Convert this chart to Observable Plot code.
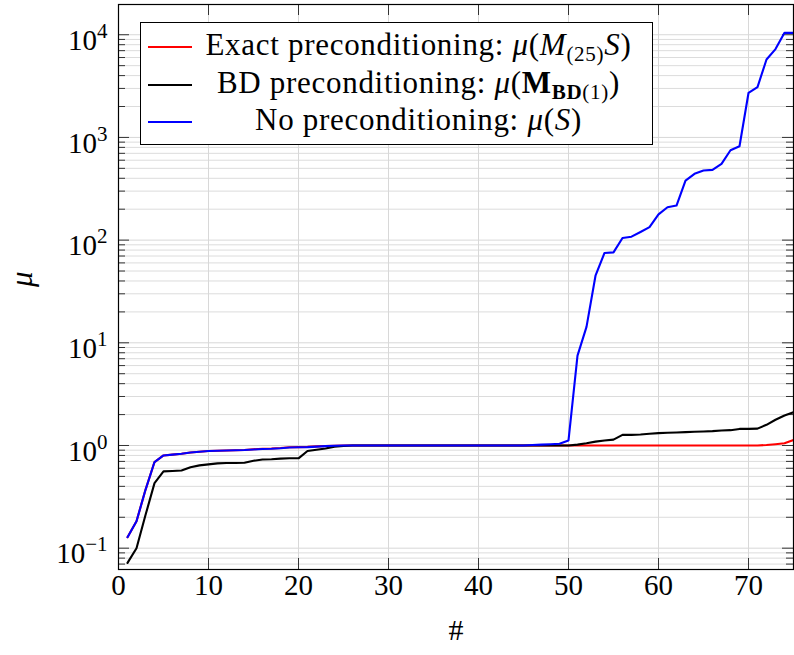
<!DOCTYPE html>
<html><head><meta charset="utf-8">
<script src="https://cdn.jsdelivr.net/npm/d3@7"></script>
<script src="https://cdn.jsdelivr.net/npm/@observablehq/plot@0.6"></script>
<style>
body{margin:0;background:#fff;}
#wrap{position:relative;width:794px;height:655px;}
#legend{position:absolute;left:140px;top:22px;width:513px;height:123px;border:1.2px solid #000;background:#fff;box-sizing:border-box;}
.row{position:absolute;left:0;width:100%;height:37px;}
.sw{position:absolute;left:7px;top:18px;width:44px;height:2px;}
.lab{position:absolute;left:56px;right:12px;top:-2px;text-align:center;font-size:31px;line-height:37px;letter-spacing:.7px;white-space:nowrap;color:#000;}
.lab sub{font-size:0.68em;vertical-align:-0.28em;line-height:0;}
</style>
</head><body>
<div id="wrap"><div id="legend"></div></div>
<script>
// index (#)
const idx = d3.range(1, 76);
// Exact preconditioning: mu(M_(25) S)
const exactVals = [0.128,0.183,0.37,0.69,0.80,0.815,0.83,0.855,0.87,0.885,0.89,0.895,0.9,0.905,0.92,0.93,0.935,0.945,0.96,0.965,0.97,0.98,0.99,0.995,1.0,
 1.0,1.0,1.0,1.0,1.0,1.0,1.0,1.0,1.0,1.0,1.0,1.0,1.0,1.0,1.0,1.0,1.0,1.0,1.0,1.0,
 1.0,1.0,1.0,1.0,1.0,1.0,1.0,1.0,1.0,1.0,1.0,1.0,1.0,1.0,1.0,1.0,1.0,1.0,1.0,1.0,1.0,1.0,1.0,1.0,1.0,1.0,1.01,1.03,1.05,1.13];
// BD preconditioning: mu(M_BD(1))
const bdVals = [0.072,0.10,0.21,0.43,0.56,0.565,0.57,0.615,0.64,0.655,0.67,0.675,0.675,0.68,0.71,0.73,0.735,0.745,0.75,0.75,0.885,0.91,0.935,0.975,0.99,
 1.0,1.0,1.0,1.0,1.0,1.0,1.0,1.0,1.0,1.0,1.0,1.0,1.0,1.0,1.0,1.0,1.0,1.0,1.0,1.0,1.0,1.0,1.0,1.0,1.0,
 1.02,1.05,1.09,1.12,1.14,1.27,1.27,1.28,1.30,1.32,1.33,1.34,1.35,1.36,1.37,1.38,1.40,1.41,1.45,1.45,1.46,1.59,1.78,1.96,2.11];
// No preconditioning: mu(S)
const noneVals = [0.128,0.183,0.37,0.69,0.80,0.815,0.83,0.855,0.87,0.885,0.89,0.895,0.9,0.905,0.915,0.925,0.93,0.94,0.955,0.96,0.965,0.975,0.985,0.995,1.0,
 1.0,1.0,1.0,1.0,1.0,1.0,1.0,1.0,1.0,1.0,1.0,1.0,1.0,1.0,1.0,1.0,1.0,1.0,1.0,1.0,
 1.01,1.02,1.03,1.04,1.12,7.5,14.3,45,75,76,105,108,120,134,178,209,217,380,442,476,483,553,750,821,2710,3090,5740,7250,10430,10430];

const seriesNames = ["exact", "bd", "none"];
const seriesColors = ["#ff0000", "#000000", "#0000ff"];
const seriesLabels = [
  'Exact preconditioning: <i>μ</i>(<i>M</i><sub>(25)</sub><i>S</i>)',
  'BD preconditioning: <i>μ</i>(<b>M</b><sub><b>BD</b>(1)</sub>)',
  'No preconditioning: <i>μ</i>(<i>S</i>)'
];
const xTicks = [0, 10, 20, 30, 40, 50, 60, 70];
const yMajor = [0.1, 1, 10, 100, 1000, 10000];
const yMinor = [];
for (const p of [-2, -1, 0, 1, 2, 3, 4]) for (let m = 2; m <= 9; m++) {
  const v = m * Math.pow(10, p);
  if (v > 0.062 && v < 19700) yMinor.push(+v.toPrecision(3));
}
const supMap = {"-1": "−1", "0": "0", "1": "1", "2": "2", "3": "3", "4": "4"};

const allSeries = [exactVals, bdVals, noneVals];
const table = [];
allSeries.forEach((vals, s) => vals.forEach((v, i) => table.push({x: idx[i], y: v, s: seriesNames[s]})));

const W = 794, H = 655, mL = 118, mR = 1, mT = 4, mB = 86;
const iW = W - mL - mR, iH = H - mT - mB;
const tickCol = "#333";
const FONT = "Liberation Serif";

const chart = Plot.plot({
  width: W, height: H,
  marginLeft: mL, marginRight: mR, marginTop: mT, marginBottom: mB,
  style: {fontSize: "29px", color: "#000", background: "#fff", overflow: "visible"},
  x: {domain: [0, 75]},
  y: {type: "log", domain: [0.062, 19700]},
  color: {domain: seriesNames, range: seriesColors},
  marks: [
    Plot.gridY(yMinor, {stroke: "#dcdcdc", strokeOpacity: 1, strokeWidth: 1}),
    Plot.gridY(yMajor, {stroke: "#d8d8d8", strokeOpacity: 1, strokeWidth: 1}),
    Plot.gridX(xTicks.slice(1), {stroke: "#d8d8d8", strokeOpacity: 1, strokeWidth: 1}),
    // inward ticks
    Plot.tickX(xTicks, {x: d => d, insetTop: iH - 11, stroke: tickCol}),
    Plot.tickX(xTicks, {x: d => d, insetBottom: iH - 11, stroke: tickCol}),
    Plot.tickY(yMajor, {y: d => d, insetRight: iW - 11, stroke: tickCol}),
    Plot.tickY(yMajor, {y: d => d, insetLeft: iW - 11, stroke: tickCol}),
    Plot.tickY(yMinor, {y: d => d, insetRight: iW - 7, stroke: tickCol}),
    Plot.tickY(yMinor, {y: d => d, insetLeft: iW - 7, stroke: tickCol}),
    Plot.line(table, {x: "x", y: "y", z: "s", stroke: "s", strokeWidth: 2.1, strokeLinejoin: "round", sort: (a, b) => seriesNames.indexOf(a.s) - seriesNames.indexOf(b.s) || a.x - b.x}),
    Plot.frame({stroke: "#000", strokeWidth: 1.2}),
    Plot.axisX(xTicks, {tickSize: 0, tickPadding: 5, tickFormat: d => String(d), label: null}),
    Plot.axisY(yMajor, {tickSize: 0, tickPadding: 11, dy: 6, tickFormat: d => "10^" + supMap[String(Math.round(Math.log10(d)))], label: null}),
    Plot.text(["#"], {text: d => d, frameAnchor: "bottom", dy: 70, fontSize: 30}),
    Plot.text(["μ"], {text: d => d, frameAnchor: "left", dx: -96, rotate: -90, fontStyle: "italic", fontSize: 31})
  ]
});

// superscript exponents on y tick labels
const ns = "http://www.w3.org/2000/svg";
chart.querySelectorAll('[aria-label="y-axis tick label"] text').forEach(t => {
  const [b, e] = t.textContent.split("^");
  t.textContent = "";
  const t1 = document.createElementNS(ns, "tspan"); t1.textContent = b;
  const t2 = document.createElementNS(ns, "tspan"); t2.textContent = e;
  t2.setAttribute("font-size", "21"); t2.setAttribute("dy", "-12");
  t.append(t1, t2);
});

const wrap = document.getElementById("wrap");
wrap.insertBefore(chart, wrap.firstChild);

const legend = document.getElementById("legend");
seriesNames.forEach((n, i) => {
  const row = document.createElement("div");
  row.className = "row";
  row.style.top = [5, 43, 80][i] + "px";
  row.innerHTML = `<div class="sw" style="background:${seriesColors[i]}"></div><div class="lab">${seriesLabels[i]}</div>`;
  legend.appendChild(row);
});

// serif family applied inline on every text-bearing element
chart.setAttribute("font-family", FONT);
chart.style.setProperty("font-family", FONT, "important");
chart.querySelectorAll("text, tspan").forEach(el => { el.setAttribute("font-family", FONT); el.style.setProperty("font-family", FONT, "important"); });
legend.querySelectorAll("*").forEach(el => el.style.setProperty("font-family", FONT, "important"));
</script>
</body></html>
